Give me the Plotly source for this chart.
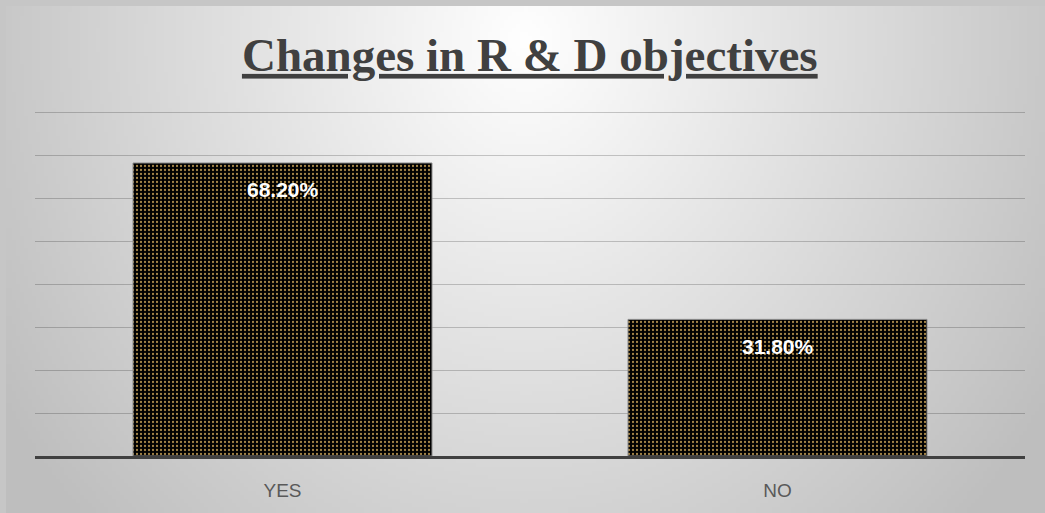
import base64, struct, zlib
import numpy as np
import plotly.graph_objects as go

# ---- data ----
categories = ["YES", "NO"]
values = [68.2, 31.8]
value_labels = ["68.20%", "31.80%"]
title_text = "Changes in R & D objectives"

W, H = 1045, 513
ML, MR, MT, MB = 35, 20, 108, 57

# ---- radial gradient background as PNG ----
def png_gray(arr):
    h, w = arr.shape
    raw = b"".join(b"\x00" + arr[i].tobytes() for i in range(h))
    def chunk(tag, data):
        c = tag + data
        return struct.pack(">I", len(data)) + c + struct.pack(">I", zlib.crc32(c) & 0xffffffff)
    return (b"\x89PNG\r\n\x1a\n" + chunk(b"IHDR", struct.pack(">IIBBBBB", w, h, 8, 0, 0, 0, 0))
            + chunk(b"IDAT", zlib.compress(raw, 9)) + chunk(b"IEND", b""))

gx0, gy0 = 6, 6
gw, gh = W - gx0, H - gy0
sw, sh = 260, 127
xs = gx0 + (np.arange(sw) + 0.5) * gw / sw
ys = gy0 + (np.arange(sh) + 0.5) * gh / sh
X, Y = np.meshgrid(xs, ys)
r = np.sqrt(((X - 525) / 620) ** 2 + ((Y - 40) / 700) ** 2)
img = (255 - 65 * np.clip(r, 0, 1)).astype(np.uint8)
src = "data:image/png;base64," + base64.b64encode(png_gray(img)).decode()

pw, ph = W - ML - MR, H - MT - MB

fig = go.Figure()
fig.add_trace(go.Bar(
    x=categories, y=values, width=0.604,
    marker=dict(color="#000000",
                pattern=dict(shape=".", fgcolor="#a48548", bgcolor="#000000", size=4, solidity=0.25, fillmode="replace"),
                line=dict(color="#8a8a8a", width=1)),
    hoverinfo="skip",
))

for c, v, t in zip(categories, values, value_labels):
    fig.add_annotation(x=c, y=v, text="<b>" + t + "</b>", showarrow=False, yshift=-27,
                       font=dict(family="Liberation Sans, Arial, sans-serif", size=21, color="#ffffff"))

fig.update_layout(
    width=W, height=H,
    margin=dict(l=ML, r=MR, t=MT, b=MB, pad=0),
    paper_bgcolor="#c6c6c6", plot_bgcolor="rgba(0,0,0,0)",
    showlegend=False,
    title=dict(text=title_text, x=0.507, xanchor="center", y=1 - 38 / H, yanchor="top", yref="container",
               font=dict(family="Liberation Serif, Times New Roman, serif", size=47, color="#404040",
                         weight="bold", lineposition="under")),
    xaxis=dict(showline=True, linecolor="#404040", linewidth=3, showgrid=False,
               tickfont=dict(family="Liberation Sans, Arial, sans-serif", size=19, color="#595959"),
               ticks="", ticklabelstandoff=15),
    yaxis=dict(range=[0, 81], tickvals=[10, 20, 30, 40, 50, 60, 70, 80], showticklabels=False, zeroline=False,
               showgrid=True, gridcolor="rgba(0,0,0,0.2)", gridwidth=1),
    images=[dict(source=src, xref="paper", yref="paper",
                 x=(gx0 - ML) / pw, y=(H - MB - gy0) / ph, sizex=gw / pw, sizey=gh / ph,
                 xanchor="left", yanchor="top", sizing="stretch", layer="below")],
)

fig.write_html("out.html")
